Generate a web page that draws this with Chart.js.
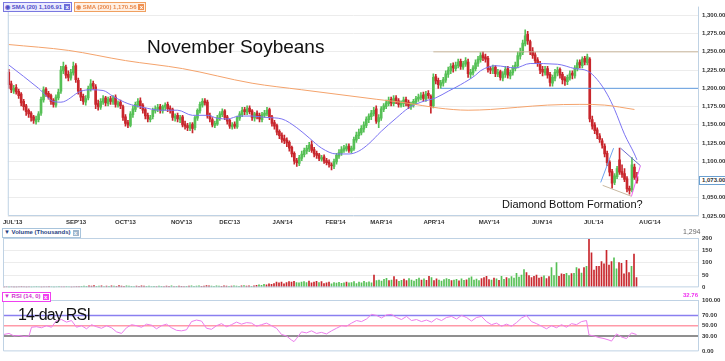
<!DOCTYPE html>
<html><head><meta charset="utf-8">
<script src="https://cdn.jsdelivr.net/npm/chart.js@4.4.1/dist/chart.umd.min.js"></script>
<style>
html,body{margin:0;padding:0;background:#fff;width:725px;height:361px;overflow:hidden;position:relative;font-family:"Liberation Sans",Arial,sans-serif}
canvas{position:absolute;left:0}
.tag{position:absolute;height:8px;line-height:8px;font:bold 6px "Liberation Sans",Arial,sans-serif;border:1px solid;padding:0 1px 0 1px;white-space:nowrap}
.tag b{display:inline-block;width:6px;height:6px;line-height:6px;text-align:center;color:#fff;font-size:6px;margin-left:2px;vertical-align:top;margin-top:1px}
.txt{position:absolute;white-space:nowrap}
</style></head>
<body>
<canvas id="main" width="725" height="228" style="top:0"></canvas>
<canvas id="vol" width="725" height="66" style="top:228px"></canvas>
<canvas id="rsi" width="725" height="66" style="top:292px"></canvas>

<div class="tag" style="left:3px;top:2px;border-color:#7a78e0;background:#ebebff;color:#4f4fc8">&#9673; SMA (20) 1,106.91<b style="background:#6b6bd8">x</b></div>
<div class="tag" style="left:74px;top:2px;border-color:#f0a060;background:#fff0e4;color:#e8884a">&#9673; SMA (200) 1,170.56<b style="background:#f09050">x</b></div>
<div class="txt" style="left:147px;top:36px;font-size:19px;color:#111">November Soybeans</div>
<div class="txt" style="left:502px;top:198px;font-size:11px;color:#111">Diamond Bottom Formation?</div>
<div class="tag" style="left:2px;top:228px;border-color:#a8c4dc;background:#fff;color:#1f3f7f">&#9660; Volume (Thousands)<b style="background:#9db5cc">x</b></div>
<div class="txt" style="left:683px;top:228px;font-size:7px;color:#666">1,294</div>
<div class="tag" style="left:2px;top:292px;border-color:#f040f0;background:#fff;color:#d030d0">&#9660; RSI (14, 0)<b style="background:#f040f0">x</b></div>
<div class="txt" style="left:683px;top:292px;font:bold 6px 'Liberation Sans',Arial,sans-serif;color:#f030f0">32.76</div>
<div class="txt" style="left:18px;top:306px;font-size:16px;letter-spacing:-0.8px;color:#111">14-day RSI</div>
<div id="lastTag" class="txt" style="left:699px;font:bold 6px 'Liberation Sans',Arial,sans-serif;color:#333;background:#fff;border:1px solid #6a9fd0;padding:0 2px;height:7px;line-height:7px"></div>

<script>
// ---------- data ----------
const opens = [
1222,1206,1196,1201,1196,1192,1182,1176,1170,1166,
1161,1154,1157,1166,1184,1199,1193,1190,1184,1177,
1187,1196,1224,1229,1219,1214,1221,1231,1211,1197,
1189,1181,1187,1199,1207,1202,1179,1174,1181,1187,
1179,1186,1181,1188,1177,1181,1175,1161,1153,1149,
1164,1171,1177,1183,1177,1171,1163,1157,1161,1169,
1171,1175,1169,1174,1178,1173,1171,1159,1163,1157,
1161,1151,1149,1145,1151,1146,1159,1169,1177,1183,
1181,1163,1157,1149,1151,1159,1164,1169,1161,1156,
1147,1151,1147,1159,1164,1171,1167,1173,1169,1159,
1166,1163,1157,1163,1165,1171,1161,1153,1149,1141,
1136,1131,1129,1126,1119,1111,1101,1097,1104,1109,
1114,1117,1123,1116,1111,1109,1103,1106,1101,1099,
1095,1093,1099,1107,1111,1115,1117,1121,1114,1117,
1129,1135,1139,1144,1149,1157,1161,1165,1172,1154,
1159,1171,1175,1179,1185,1179,1187,1183,1177,1179,
1185,1181,1175,1177,1181,1185,1187,1191,1185,1193,
1189,1176,1216,1211,1204,1207,1211,1219,1224,1231,
1227,1231,1237,1229,1233,1236,1219,1221,1227,1234,
1239,1246,1243,1241,1227,1224,1229,1219,1223,1214,
1219,1227,1217,1221,1227,1231,1244,1249,1261,1274,
1264,1251,1246,1239,1234,1226,1221,1227,1219,1207,
1214,1221,1226,1219,1213,1209,1214,1221,1217,1227,
1236,1231,1241,1235,1240,1157,1150,1143,1135,1128,
1121,1111,1099,1086,1071,1079,1102,1086,1083,1076,
1063,1061,1092,1079];
const highs = [
1226,1210,1204,1205,1199,1194,1185,1178,1172,1168,
1163,1162,1168,1188,1202,1201,1196,1192,1186,1191,
1199,1230,1236,1232,1224,1226,1236,1234,1214,1200,
1192,1190,1203,1212,1210,1205,1184,1186,1190,1189,
1188,1189,1190,1191,1183,1184,1177,1164,1156,1168,
1176,1181,1186,1187,1179,1173,1166,1163,1173,1176,
1178,1178,1177,1180,1181,1176,1173,1165,1166,1163,
1163,1155,1152,1153,1153,1162,1172,1181,1186,1186,
1184,1166,1160,1155,1163,1168,1172,1171,1163,1158,
1153,1154,1162,1168,1174,1174,1176,1176,1171,1167,
1169,1166,1167,1170,1174,1173,1163,1156,1151,1143,
1139,1136,1132,1128,1121,1113,1104,1108,1114,1118,
1122,1126,1128,1119,1114,1111,1108,1109,1104,1102,
1098,1103,1111,1116,1120,1122,1124,1124,1121,1133,
1140,1144,1149,1154,1161,1165,1170,1174,1176,1164,
1175,1179,1184,1188,1188,1190,1190,1186,1183,1188,
1188,1184,1181,1185,1189,1192,1194,1195,1196,1197,
1191,1220,1219,1214,1211,1215,1224,1229,1234,1235,
1236,1240,1240,1237,1242,1240,1226,1231,1239,1244,
1249,1250,1247,1244,1230,1232,1231,1226,1225,1223,
1230,1230,1225,1231,1236,1250,1255,1266,1280,1278,
1266,1256,1249,1242,1237,1230,1230,1230,1222,1218,
1226,1229,1228,1222,1216,1218,1224,1224,1231,1239,
1239,1243,1244,1247,1242,1162,1153,1146,1138,1131,
1124,1114,1101,1089,1083,1093,1118,1095,1090,1079,
1066,1105,1096,1085];
const lows = [
1200,1194,1193,1192,1186,1176,1170,1163,1160,1155,
1152,1151,1154,1163,1181,1189,1185,1178,1174,1174,
1184,1193,1220,1214,1210,1211,1218,1208,1192,1183,
1178,1177,1184,1196,1199,1172,1170,1171,1178,1176,
1176,1178,1178,1174,1174,1172,1156,1148,1146,1147,
1160,1168,1174,1172,1166,1158,1154,1154,1158,1166,
1168,1166,1166,1170,1168,1166,1156,1155,1154,1153,
1147,1144,1142,1142,1139,1143,1156,1166,1174,1177,
1159,1154,1147,1146,1149,1156,1161,1157,1151,1145,
1144,1145,1145,1156,1161,1164,1164,1165,1156,1155,
1158,1154,1154,1160,1162,1157,1148,1144,1136,1131,
1126,1124,1120,1114,1106,1096,1093,1094,1101,1106,
1110,1113,1112,1106,1104,1101,1100,1097,1095,1092,
1088,1090,1096,1104,1108,1112,1114,1112,1111,1115,
1126,1131,1136,1140,1146,1153,1157,1162,1152,1146,
1156,1168,1172,1176,1176,1176,1179,1174,1174,1175,
1176,1172,1171,1174,1178,1182,1184,1182,1182,1186,
1166,1173,1206,1200,1200,1203,1208,1215,1220,1222,
1224,1228,1226,1226,1230,1215,1214,1218,1224,1230,
1236,1238,1236,1222,1220,1220,1216,1216,1211,1210,
1215,1214,1213,1218,1224,1228,1240,1246,1258,1260,
1246,1241,1234,1230,1220,1217,1218,1214,1203,1203,
1210,1217,1214,1206,1204,1205,1211,1213,1214,1224,
1228,1228,1232,1232,1154,1144,1138,1131,1126,1118,
1106,1094,1080,1063,1068,1076,1082,1078,1072,1058,
1055,1058,1075,1070];
const closes = [
1205,1198,1200,1195,1190,1180,1175,1168,1165,1160,
1156,1158,1165,1185,1198,1192,1188,1182,1178,1188,
1195,1225,1230,1218,1215,1222,1230,1212,1196,1188,
1182,1186,1200,1206,1203,1178,1175,1182,1186,1180,
1185,1182,1187,1178,1180,1176,1160,1152,1150,1165,
1172,1178,1182,1176,1170,1162,1158,1160,1170,1172,
1174,1170,1175,1177,1172,1170,1160,1162,1158,1160,
1150,1148,1146,1150,1145,1160,1170,1178,1182,1180,
1162,1158,1150,1152,1160,1165,1168,1160,1155,1148,
1150,1148,1160,1165,1170,1168,1172,1168,1160,1165,
1162,1158,1164,1166,1170,1160,1152,1148,1140,1135,
1130,1128,1125,1118,1110,1100,1098,1105,1110,1115,
1118,1122,1115,1110,1108,1104,1105,1100,1098,1096,
1094,1100,1108,1112,1116,1118,1120,1115,1118,1130,
1136,1140,1145,1150,1158,1162,1166,1170,1155,1160,
1172,1176,1180,1184,1180,1186,1182,1178,1180,1184,
1180,1176,1178,1182,1186,1188,1190,1186,1192,1190,
1175,1215,1210,1205,1208,1212,1220,1225,1230,1228,
1232,1236,1230,1234,1238,1220,1222,1228,1235,1240,
1245,1242,1240,1226,1225,1228,1220,1222,1215,1220,
1226,1218,1222,1228,1232,1245,1250,1262,1272,1265,
1250,1245,1238,1235,1225,1222,1226,1218,1208,1215,
1222,1225,1218,1212,1210,1215,1220,1218,1228,1235,
1232,1240,1236,1243,1158,1148,1142,1136,1130,1122,
1110,1098,1085,1070,1080,1090,1085,1082,1075,1062,
1060,1095,1078,1073];
const volumes = [
1,2,1,2,1,1,2,3,2,1, 2,1,2,3,2,1,2,2,3,2, 1,2,3,2,2,3,2,1,2,3,
3,4,5,4,6,5,7,4,5,6, 3,5,4,6,5,4,7,5,4,6, 5,4,3,5,4,6,5,4,5,3,
4,3,5,4,3,5,4,6,3,4, 5,4,3,4,5,6,4,5,6,4, 5,7,6,5,4,6,5,4,6,5,
4,5,6,5,4,6,7,5,6,4, 6,8,10,8,12,10,14,12,15,22, 18,22,14,20,24,22,25,20,18,22,
24,20,26,18,22,25,20,24,15,18, 22,14,20,17,21,16,19,22,18,20, 24,15,22,19,25,20,23,18,50,28,
30,26,33,37,28,30,44,32,25,29, 34,28,36,30,26,33,38,30,35,29, 45,40,28,35,30,26,32,36,33,28,
30,33,27,35,29,31,38,43,30,34, 28,36,40,45,32,30,38,35,29,45, 33,40,36,44,38,57,42,50,72,60,
48,40,45,50,38,42,47,36,44,80, 48,100,45,55,53,57,48,56,57,80, 75,58,80,85,
195,140,70,85,85,105,95,150,90,105, 120,75,100,97,55,110,60,85,135,40];

const sma20Days = [0,12,18,21,29,33,38,42,48,54,61,68,74,80,84,88,93,98,104,110,116,121,126,132,137,141,145,150,156,161,166,172,177,182,188,190,196,204,210,221,228,233,237,241,244,248,252,253];
const sma20Vals = [1232,1200,1182,1181,1196,1198,1197,1189,1179,1174,1170,1170,1163,1163,1159,1158,1162,1162,1160,1158,1146,1132,1118,1110,1110,1114,1124,1141,1159,1173,1181,1187,1196,1205,1218,1224,1231,1228,1234,1233,1227,1224,1212,1192,1171,1137,1110,1102];
const sma200Days = [0,24,47,70,98,118,148,160,173,185,194,205,217,230,240,252];
const sma200Vals = [1260,1252,1238,1227,1207,1198,1185,1180,1173,1170,1171,1174,1177,1178,1177,1171];

const rsiDays = [0,2,4,6,8,10,11,13,15,17,19,21,23,25,27,29,31,33,35,37,39,41,43,45,47,49,51,53,55,57,59,61,63,65,67,69,71,73,75,77,79,81,83,85,87,89,91,93,95,97,99,101,103,105,107,109,111,113,115,116,117,119,121,123,125,127,129,131,133,135,137,139,141,143,145,147,149,151,153,155,157,159,161,163,165,167,169,171,173,175,177,179,181,183,185,187,189,191,193,195,197,199,201,203,205,207,209,211,213,215,217,219,221,223,225,227,229,231,233,234,236,238,240,242,243,245,247,249,251,253];
const rsiVals = [33,35,30,31,29,30,47,48,46,50,47,60,62,57,60,47,50,44,52,48,45,50,46,38,35,46,52,50,47,53,51,44,50,53,46,41,40,42,58,61,59,45,43,50,54,48,52,57,53,56,55,49,52,55,50,45,33,30,22,19,25,38,36,40,35,37,34,40,45,50,49,55,60,58,63,72,70,65,71,72,66,62,68,60,62,58,61,57,64,60,66,68,63,70,66,59,66,68,58,52,55,49,53,49,56,65,70,58,54,49,44,50,46,52,47,54,52,58,60,32,30,27,25,22,20,34,28,25,36,32.76];
const rsiLevels = [70,50,30];

const resistanceLevels = [1250,1200];
const resistanceStartDays = [171,174];
const diamondDays = [[238.4,243.6],[246.4,254.4],[254.4,250.8],[239.2,250.8]];
const diamondPrices = [[1071,1118],[1118,1094],[1094,1052],[1067,1052]];

const monthLabels = ["JUL'13","SEP'13","OCT'13","NOV'13","DEC'13","JAN'14","FEB'14","MAR'14","APR'14","MAY'14","JUN'14","JUL'14","AUG'14"];
const monthTickDays = [1.6,27.1,47,69.6,89,110.3,131.6,150,171.2,193.5,214.8,235.6,258.2];
const priceTicks = [1025,1050,1075,1100,1125,1150,1175,1200,1225,1250,1275,1300];
const volumeTicks = [0,50,100,150,200];
const rsiTicks = [0,30,50,70,100];

// ---------- helpers ----------
const X_MIN = -0.4, X_MAX = 278;
const days = closes.map((_, i) => i);
function candleColor(i){
  const bodyUp = closes[i] >= opens[i];
  const prev = i > 0 ? closes[i-1] : opens[i];
  const dayUp = closes[i] >= prev;
  if (bodyUp) return dayUp ? '#56c056' : '#a9e0a3';
  return dayUp ? '#eba5a5' : '#c8262c';
}
function fmtPrice(v){ const t = Math.floor(v/1000); const r = String(Math.round(v%1000)).padStart(3,'0'); return t + ',' + r + '.00'; }
const tickFont = {family:'"Liberation Sans", Arial, sans-serif', size:6, weight:'bold'};
const frame = {
  id:'frame',
  afterDraw(chart, args, opts){
    const {ctx, chartArea:a} = chart;
    ctx.save(); ctx.strokeStyle = '#bfd2e4'; ctx.lineWidth = 1;
    ctx.beginPath();
    if (opts.top) { ctx.moveTo(a.left+0.5, a.top+0.5); ctx.lineTo(a.right-0.5, a.top+0.5); }
    ctx.moveTo(a.left+0.5, a.top); ctx.lineTo(a.left+0.5, a.bottom-0.5);
    ctx.lineTo(a.right-0.5, a.bottom-0.5); ctx.lineTo(a.right-0.5, a.top);
    ctx.stroke(); ctx.restore();
  }
};
function xScale(showTicks){
  const s = {
    type:'linear', min:X_MIN, max:X_MAX, offset:false, display:showTicks,
    grid:{display:false, drawTicks:false}, border:{display:false},
    afterBuildTicks: sc => { sc.ticks = monthTickDays.map(v => ({value:v})); },
    ticks:{autoSkip:false, maxRotation:0, padding:3, color:'#333', font:tickFont, callback:(v, idx) => monthLabels[idx]}
  };
  if (showTicks) s.afterFit = sc => { sc.height = 12; };
  return s;
}
function yScale(min, max, ticks, fmt, gridColor){
  return {
    position:'right', min, max,
    grid:{color:gridColor, drawTicks:false, lineWidth:1}, border:{display:false},
    afterBuildTicks: s => { s.ticks = ticks.map(v => ({value:v})); },
    ticks:{padding:3, color:'#333', font:tickFont, callback: fmt},
    afterFit: s => { s.width = 26; }
  };
}
const common = {responsive:false, animation:false, devicePixelRatio:1,
  plugins:{legend:{display:false}, tooltip:{enabled:false}}};

// ---------- main price chart ----------
const mainDatasets = [
  {type:'bar', label:'wick', data: days.map(i => ({x:i, y:[lows[i], highs[i]]})), backgroundColor: days.map(candleColor), barThickness:1, grouped:false, order:3},
  {type:'bar', label:'body', data: days.map(i => ({x:i, y:[opens[i], closes[i]]})), backgroundColor: days.map(candleColor), barThickness:2, grouped:false, order:2},
  {type:'line', label:'SMA200', data: sma200Days.map((d,k) => ({x:d, y:sma200Vals[k]})), borderColor:'#f4a36c', borderWidth:1, pointRadius:0, cubicInterpolationMode:'monotone', order:1},
  {type:'line', label:'SMA20', data: sma20Days.map((d,k) => ({x:d, y:sma20Vals[k]})), borderColor:'#7c74f2', borderWidth:1, pointRadius:0, cubicInterpolationMode:'monotone', order:1},
  {type:'line', label:'R1250', data:[{x:resistanceStartDays[0], y:resistanceLevels[0]},{x:X_MAX, y:resistanceLevels[0]}], borderColor:'#c9b79c', borderWidth:1, pointRadius:0, order:1},
  {type:'line', label:'S1200', data:[{x:resistanceStartDays[1], y:resistanceLevels[1]},{x:X_MAX, y:resistanceLevels[1]}], borderColor:'#5f9be0', borderWidth:1, pointRadius:0, order:1}
];
const diamondColors = ['#6fa3f0','#6a6ad0','#f060f0','#c8b8a0'];
diamondDays.forEach((d,k) => mainDatasets.push({type:'line', data:[{x:d[0], y:diamondPrices[k][0]},{x:d[1], y:diamondPrices[k][1]}], borderColor:diamondColors[k], borderWidth:1, pointRadius:0, order:0}));

const mainChart = new Chart(document.getElementById('main'), {
  type:'bar',
  data:{datasets: mainDatasets},
  options:Object.assign({}, common, {
    layout:{padding:{left:3, top:4, right:0, bottom:0}},
    scales:{ x: xScale(true), y: yScale(1025, 1312, priceTicks, v => fmtPrice(v), '#ececec') },
    plugins:Object.assign({}, common.plugins, {frame:{top:false}})
  }),
  plugins:[frame]
});
const lt = document.getElementById('lastTag');
lt.textContent = fmtPrice(closes[closes.length-1]);
lt.style.top = (mainChart.scales.y.getPixelForValue(closes[closes.length-1]) - 4.5) + 'px';

// ---------- volume chart ----------
new Chart(document.getElementById('vol'), {
  type:'bar',
  data:{datasets:[{data: days.map(i => ({x:i, y:volumes[i]})), backgroundColor: days.map(candleColor), barThickness:1}]},
  options:Object.assign({}, common, {
    layout:{padding:{left:3, top:10, right:0, bottom:6}},
    scales:{ x: xScale(false), y: yScale(0, 200, volumeTicks, v => String(v), c => (c.tick.value===0||c.tick.value===200) ? 'rgba(0,0,0,0)' : '#ececec') },
    plugins:Object.assign({}, common.plugins, {frame:{top:true}})
  }),
  plugins:[frame]
});

// ---------- RSI chart ----------
const rsiColors = ['#8a7ff0','#ff9aa8','#6a6a6a'];
const rsiDatasets = rsiLevels.map((lv,k) => ({type:'line', data:[{x:X_MIN, y:lv},{x:X_MAX, y:lv}], borderColor:rsiColors[k], borderWidth:1.5, pointRadius:0, order:2}));
rsiDatasets.push({type:'line', data: rsiDays.map((d,k) => ({x:d, y:rsiVals[k]})), borderColor:'#ec7dec', borderWidth:1, pointRadius:0, order:1});
new Chart(document.getElementById('rsi'), {
  type:'line',
  data:{datasets: rsiDatasets},
  options:Object.assign({}, common, {
    layout:{padding:{left:3, top:8, right:0, bottom:5}},
    scales:{ x: xScale(false), y: yScale(0, 100, rsiTicks, v => v.toFixed(2), 'rgba(0,0,0,0)') },
    plugins:Object.assign({}, common.plugins, {frame:{top:true}})
  }),
  plugins:[frame]
});
</script>
</body></html>
